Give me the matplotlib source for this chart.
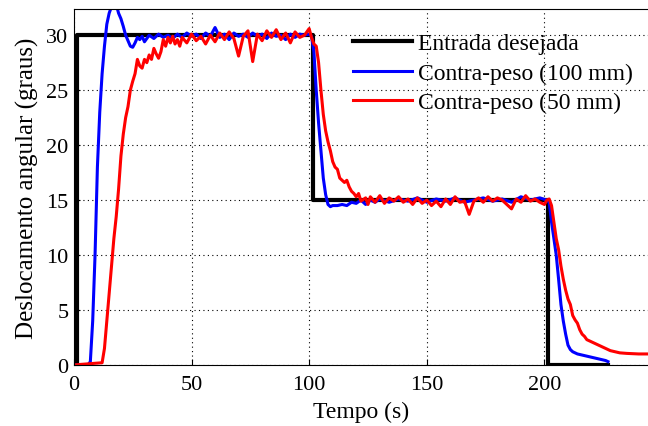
import matplotlib.pyplot as plt

plt.rcParams["font.family"] = ["Liberation Serif", "DejaVu Serif"]
plt.rcParams["font.size"] = 16

# ----------------------------------------------------------
# Data
# ----------------------------------------------------------

t_ref = [0, 1.5, 1.5, 101.5, 101.5, 201.5, 201.5, 227]
y_ref = [0, 0, 30, 30, 15, 15, 0, 0]

t_100 = [0, 6, 7, 8, 9, 10, 11, 12, 13, 14, 15, 16, 17, 18, 19, 20, 21, 22,
         23, 24, 25, 26, 27, 28, 29, 30, 32, 34, 36, 38, 40, 42, 44, 46, 48,
         50, 52, 54, 56, 58, 60, 62, 64, 66, 68, 70, 72, 74, 76, 78, 80, 82,
         84, 86, 88, 90, 92, 94, 96, 98, 100, 101, 102, 103, 104, 105, 106,
         107, 108, 109, 110, 112, 114, 116, 118, 120, 122, 124, 126, 128, 130,
         134, 138, 142, 146, 150, 154, 158, 162, 166, 170, 174, 178, 182, 186,
         190, 194, 198, 201, 202, 203, 204, 205, 206, 207, 208, 209, 210, 211,
         212, 214, 216, 218, 220, 222, 224, 226, 227]
y_100 = [0, 0, 0.3, 4, 10, 18, 23, 26.5, 29, 31, 32, 32.6, 33, 32.8, 32, 31.5,
         30.8, 30.0, 29.5, 29.0, 28.9, 29.3, 29.8, 29.6, 29.9, 29.4, 30.0, 29.7,
         30.1, 29.8, 30.0, 29.7, 30.1, 29.8, 30.2, 29.9, 30.1, 29.7, 30.2, 29.9,
         30.7, 29.8, 30.1, 29.6, 30.2, 29.9, 30.1, 29.8, 30.2, 29.9, 30.1, 29.7,
         30.2, 29.9, 30.0, 29.6, 30.1, 29.8, 30.1, 30.0, 30.1, 29.9, 28.5, 25,
         22, 19.5, 17, 15.5, 14.6, 14.4, 14.5, 14.5, 14.6, 14.5, 14.8, 14.7,
         15.0, 14.6, 15.0, 14.8, 15.1, 14.8, 15.1, 14.9, 15.2, 14.8, 15.1, 14.9,
         15.2, 14.8, 15.0, 15.2, 14.9, 15.1, 14.8, 15.3, 15.0, 15.2, 15.0, 14.8,
         13, 11.5, 10, 7.8, 5.5, 4, 2.8, 1.8, 1.4, 1.2, 1.0, 0.9, 0.8, 0.7, 0.6,
         0.5, 0.4, 0.3]

t_50 = [0, 12, 13, 14, 15, 16, 17, 18, 19, 20, 21, 22, 23, 24, 25, 26, 27, 28,
        29, 30, 31, 32, 33, 34, 35, 36, 37, 38, 39, 40, 41, 42, 43, 44, 45, 46,
        48, 50, 52, 54, 56, 58, 60, 62, 64, 66, 68, 70, 72, 74, 76, 78, 80, 82,
        84, 86, 88, 90, 92, 94, 96, 98, 100, 101, 102, 103, 104, 105, 106, 107,
        108, 109, 110, 111, 112, 113, 114, 115, 116, 117, 118, 119, 120, 121,
        122, 124, 125, 126, 128, 130, 132, 134, 136, 138, 140, 142, 144, 146,
        148, 150, 152, 154, 156, 158, 160, 162, 164, 166, 168, 170, 172, 174,
        176, 178, 180, 182, 184, 186, 188, 190, 192, 194, 196, 198, 200, 201,
        202, 203, 204, 205, 206, 207, 208, 209, 210, 211, 212, 213, 214, 215,
        216, 217, 218, 220, 222, 224, 226, 228, 230, 232, 235, 240, 245]
y_50 = [0, 0.2, 1.5, 4, 6.5, 9, 11.5, 13.5, 16, 19, 21, 22.5, 23.5, 25, 25.8,
        26.5, 27.8, 27.2, 27.0, 27.8, 27.5, 28.2, 27.8, 28.8, 28.3, 27.9, 28.5,
        29.6, 29.0, 29.8, 29.3, 29.9, 29.2, 29.6, 29.0, 29.8, 29.3, 30.1, 29.5,
        29.9, 29.2, 30.0, 29.4, 30.2, 29.6, 30.3, 29.7, 28.1, 29.9, 30.4, 27.6,
        30.1, 29.5, 30.4, 29.8, 30.5, 29.6, 30.2, 29.3, 30.3, 29.8, 30.0, 30.6,
        29.8, 29.2, 29.0, 27.5, 25.0, 22.8, 21.3, 20.3, 19.5, 18.5, 18.0, 17.8,
        17.0, 16.8, 16.6, 16.8, 16.2, 15.8, 15.6, 15.3, 15.6, 14.9, 15.2, 14.6,
        15.3, 14.8, 15.4, 14.7, 15.2, 14.9, 15.3, 14.8, 15.1, 14.6, 15.2, 14.7,
        15.0, 14.5, 14.9, 14.4, 15.1, 14.6, 15.3, 14.8, 14.9, 13.7, 14.9, 15.2,
        14.8, 15.3, 14.9, 15.2, 15.0, 14.6, 14.2, 15.1, 14.8, 15.4, 14.9, 15.1,
        14.8, 14.6, 15.0, 15.1, 14.5, 13.0, 11.5, 10.5, 9.0, 7.8, 6.8, 6.0, 5.5,
        4.5, 4.1, 3.8, 3.2, 2.8, 2.6, 2.3, 2.1, 1.9, 1.7, 1.5, 1.3, 1.2, 1.1,
        1.05, 1.0, 1.0]

labels = ["Entrada desejada", "Contra-peso (100 mm)", "Contra-peso (50 mm)"]

# ----------------------------------------------------------
# Plot
# ----------------------------------------------------------

fig = plt.figure(figsize=(6.48, 4.27), dpi=100)
ax = fig.add_axes([0.114, 0.143, 0.886, 0.834])

ax.plot(t_ref, y_ref, color="black", linewidth=3, label=labels[0])
ax.plot(t_100, y_100, color="blue", linewidth=2.2, label=labels[1])
ax.plot(t_50, y_50, color="red", linewidth=2.2, label=labels[2])

ax.set_xlim(0, 244)
ax.set_ylim(0, 32.4)
ax.set_xticks([0, 50, 100, 150, 200])
ax.set_yticks([0, 5, 10, 15, 20, 25, 30])
ax.tick_params(direction="in", length=4, top=False, right=False)
ax.tick_params(axis="x", pad=7)
ax.tick_params(axis="y", pad=4)
ax.spines["right"].set_visible(False)

ax.grid(True, color="black", linestyle=(0, (1, 3)), linewidth=0.8)

ax.set_xlabel("Tempo (s)", fontsize=17, labelpad=5)
ax.set_ylabel("Deslocamento angular (graus)", fontsize=18, labelpad=5)

ax.legend(loc="upper left", bbox_to_anchor=(0.545, 0.921),
          bbox_transform=fig.transFigure, frameon=False, fontsize=17,
          borderpad=0, borderaxespad=0, handlelength=2.5, handletextpad=0.25,
          labelspacing=0.34)

plt.savefig("out.png", dpi=100)
